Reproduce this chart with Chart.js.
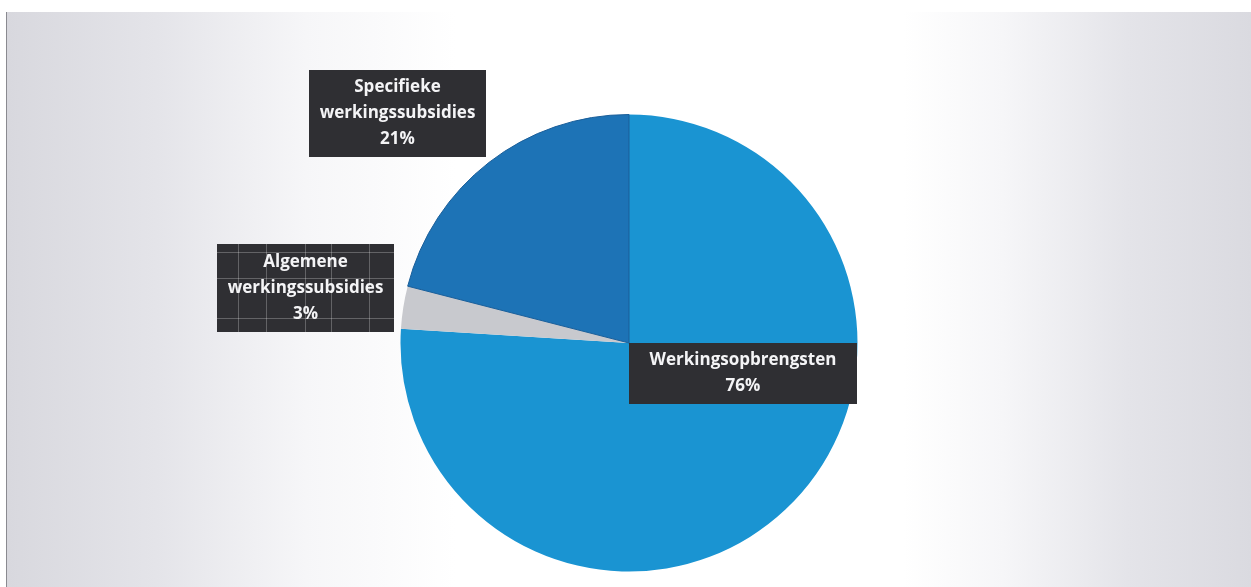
<!DOCTYPE html>
<html>
<head>
<meta charset="utf-8">
<script src="https://cdn.jsdelivr.net/npm/chart.js@4/dist/chart.umd.min.js"></script>
<style>
    html, body { margin: 0; padding: 0; background: #ffffff; }
    #paper {
        position: absolute; left: 6px; top: 12px; width: 1245px; height: 575px;
        border-left: 1px solid #8a8a90;
        background: linear-gradient(to right, #d8d8de 0%, #e4e4e9 12%, #f6f6f8 24%, #ffffff 36%, #ffffff 72%, #f6f6f8 80%, #e4e4e9 90%, #dadae0 100%);
    }
    #wrap { position: absolute; left: 0; top: 0; width: 1251px; height: 587px; }
</style>
</head>
<body>
<div id="paper"></div>
<div id="wrap"><canvas id="pie-chart"></canvas></div>
<script>
const labels = ['Werkingsopbrengsten', 'Algemene werkingssubsidies', 'Specifieke werkingssubsidies'];
const labelLines = [['Werkingsopbrengsten'], ['Algemene', 'werkingssubsidies'], ['Specifieke', 'werkingssubsidies']];
const shares = [76, 3, 21];

// where each label box sits, relative to the pie centre
const boxSpots = [
    { dx: 0, dy: 0, w: 228, h: 61 },
    { dx: -412, dy: -99, w: 177, h: 88 },
    { dx: -320, dy: -273, w: 177, h: 87 }
];

const labelBoxes = {
    id: 'labelBoxes',
    afterDatasetsDraw(chart) {
        const ctx = chart.ctx;
        const arc = chart.getDatasetMeta(0).data[0];
        const cx = arc.x, cy = arc.y;
        ctx.save();
        shares.forEach((v, i) => {
            const s = boxSpots[i];
            const x = cx + s.dx, y = cy + s.dy;
            ctx.fillStyle = '#2f2f33';
            ctx.fillRect(x, y, s.w, s.h);
            if (i === 1) {
                // faint grid that shows through the scanned box
                ctx.strokeStyle = 'rgba(255,255,255,0.25)';
                ctx.lineWidth = 1;
                ctx.beginPath();
                [21, 49, 88, 114, 152].forEach(gx => { ctx.moveTo(x + gx + 0.5, y); ctx.lineTo(x + gx + 0.5, y + s.h); });
                [8, 34, 74].forEach(gy => { ctx.moveTo(x, y + gy + 0.5); ctx.lineTo(x + s.w, y + gy + 0.5); });
                ctx.stroke();
            }
            const lines = labelLines[i].concat([v + '%']);
            ctx.fillStyle = '#f4f4f6';
            ctx.font = 'bold 17px "Open Sans", sans-serif';
            ctx.textAlign = 'center';
            ctx.textBaseline = 'middle';
            const lh = 26;
            const top = y + s.h / 2 - (lines.length - 1) * lh / 2;
            lines.forEach((t, j) => ctx.fillText(t, x + s.w / 2, top + j * lh, s.w - 8));
        });
        ctx.restore();
    }
};

const ctx = document.getElementById('pie-chart').getContext('2d');
new Chart(ctx, {
    type: 'pie',
    data: {
        labels: labels,
        datasets: [{
            data: shares,
            backgroundColor: ['#1a94d2', '#c8c9ce', '#1d73b6'],
            borderColor: ['#1a94d2', '#c8c9ce', '#1a5e99'],
            borderWidth: [0, 0, 1]
        }]
    },
    options: {
        responsive: true,
        maintainAspectRatio: false,
        animation: false,
        layout: { padding: { left: 400, right: 393, top: 114, bottom: 15 } },
        plugins: {
            legend: { display: false },
            tooltip: { enabled: false }
        }
    },
    plugins: [labelBoxes]
});
</script>
</body>
</html>
